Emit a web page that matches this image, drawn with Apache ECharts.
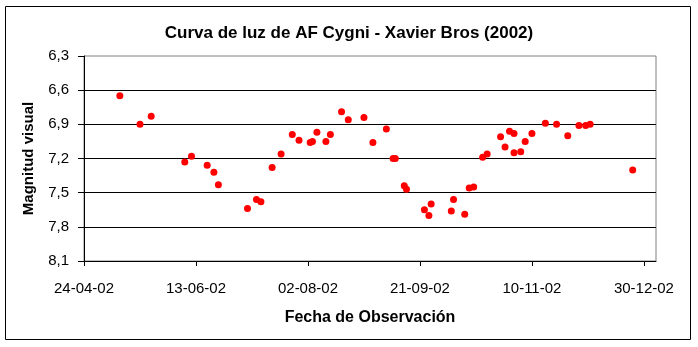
<!DOCTYPE html>
<html>
<head>
<meta charset="utf-8">
<script src="https://cdn.jsdelivr.net/npm/echarts@6/dist/echarts.min.js"></script>
<style>
html,body{margin:0;padding:0;background:#fff;}
#chart{width:698px;height:347px;}
</style>
</head>
<body>
<div id="chart"></div>
<script>
const obsDates = [
  '2002-05-10','2002-05-19','2002-05-24','2002-06-08','2002-06-11','2002-06-18','2002-06-21','2002-06-23',
  '2002-07-06','2002-07-10','2002-07-12','2002-07-17','2002-07-21','2002-07-26','2002-07-29',
  '2002-08-03','2002-08-04','2002-08-06','2002-08-10','2002-08-12','2002-08-17','2002-08-20','2002-08-27','2002-08-31',
  '2002-09-06','2002-09-09','2002-09-10','2002-09-14','2002-09-15','2002-09-23','2002-09-25','2002-09-26',
  '2002-10-05','2002-10-06','2002-10-11','2002-10-13','2002-10-15','2002-10-19','2002-10-21','2002-10-27','2002-10-29','2002-10-31',
  '2002-11-02','2002-11-02','2002-11-05','2002-11-07','2002-11-10','2002-11-16','2002-11-21','2002-11-26',
  '2002-12-01','2002-12-04','2002-12-06','2002-12-25'
];
const magnitudes = [
  6.65, 6.90, 6.83, 7.23, 7.18, 7.26, 7.32, 7.43,
  7.64, 7.56, 7.58, 7.28, 7.16, 6.99, 7.04,
  7.06, 7.05, 6.97, 7.05, 6.99, 6.79, 6.86, 6.84, 7.06,
  6.94, 7.20, 7.20, 7.44, 7.47, 7.65, 7.70, 7.60,
  7.66, 7.56, 7.69, 7.46, 7.45, 7.19, 7.16, 7.01, 7.10, 6.96,
  6.98, 7.15, 7.14, 7.05, 6.98, 6.89, 6.90, 7.00,
  6.91, 6.91, 6.90, 7.30
];
const xTickLabels = ['24-04-02','13-06-02','02-08-02','21-09-02','10-11-02','30-12-02'];
const yTickValues = [6.3, 6.6, 6.9, 7.2, 7.5, 7.8, 8.1];

const DAY = 86400000;
function parseISO(s){ const p = s.split('-').map(Number); return Date.UTC(p[0], p[1]-1, p[2]); }
function parseTick(s){ const p = s.split('-').map(Number); return Date.UTC(2000 + p[2], p[1]-1, p[0]); }
function pad(n){ return (n < 10 ? '0' : '') + n; }
function fmtDate(v){ const d = new Date(v); return pad(d.getUTCDate()) + '-' + pad(d.getUTCMonth()+1) + '-' + pad(d.getUTCFullYear() % 100); }

const xTicks = xTickLabels.map(parseTick);
const xMin = xTicks[0];
const xMax = xMin + 255.4 * DAY;
const points = obsDates.map((d, i) => [parseISO(d), magnitudes[i]]);

const FONT = '"Liberation Sans", Arial, sans-serif';
const chart = echarts.init(document.getElementById('chart'), null, {renderer: 'canvas'});
chart.setOption({
  backgroundColor: '#ffffff',
  animation: false,
  title: {
    text: 'Curva de luz de AF Cygni - Xavier Bros (2002)',
    left: 'center', top: 20,
    textStyle: {fontFamily: FONT, fontSize: 17, fontWeight: 'bold', color: '#000'}
  },
  graphic: [{
    type: 'rect', silent: true, z: -1,
    shape: {x: 5.5, y: 6.5, width: 685, height: 333},
    style: {fill: 'none', stroke: '#000', lineWidth: 1}
  }],
  grid: {left: 84, top: 56, right: 42, bottom: 86, show: true, borderColor: '#808080', borderWidth: 1, backgroundColor: '#fff'},
  xAxis: {
    type: 'value', min: xMin, max: xMax,
    name: 'Fecha de Observación', nameLocation: 'middle', nameGap: 49,
    nameTextStyle: {fontFamily: FONT, fontSize: 16, fontWeight: 'bold', color: '#000'},
    axisLine: {show: true, onZero: false, lineStyle: {color: '#000', width: 1}},
    axisTick: {show: true, length: 5, customValues: xTicks, lineStyle: {color: '#000'}},
    axisLabel: {customValues: xTicks, margin: 20, fontFamily: FONT, fontSize: 15, color: '#000', formatter: fmtDate},
    splitLine: {show: false}
  },
  yAxis: {
    type: 'value', inverse: true, min: yTickValues[0], max: yTickValues[yTickValues.length-1], interval: 0.3,
    name: 'Magnitud visual', nameLocation: 'middle', nameGap: 48,
    nameTextStyle: {fontFamily: FONT, fontSize: 15, fontWeight: 'bold', color: '#000'},
    axisLine: {show: true, lineStyle: {color: '#000', width: 1}},
    axisTick: {show: true, length: 6, lineStyle: {color: '#000'}},
    axisLabel: {margin: 15, fontFamily: FONT, fontSize: 15, color: '#000',
      formatter: v => v.toFixed(1).replace('.', ',')},
    splitLine: {show: true, showMinLine: false, showMaxLine: false, lineStyle: {color: '#000', width: 1}}
  },
  series: [{
    type: 'scatter', data: points, symbol: 'circle', symbolSize: 7,
    itemStyle: {color: '#ff0000', opacity: 1}
  }]
});
</script>
</body>
</html>
